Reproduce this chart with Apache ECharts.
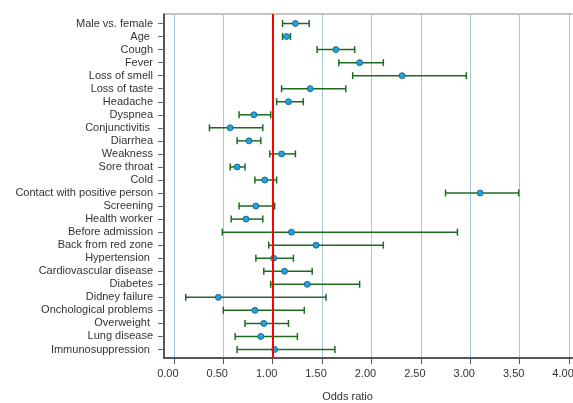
<!DOCTYPE html>
<html><head><meta charset="utf-8">
<script src="https://cdn.jsdelivr.net/npm/echarts@6/dist/echarts.min.js"></script>
<style>html,body{margin:0;padding:0;background:#fff}#c{width:573px;height:403px}</style>
</head><body><div id="c"></div>
<script>
const categories = ['Male vs. female','Age ','Cough','Fever','Loss of smell','Loss of taste','Headache','Dyspnea','Conjunctivitis ','Diarrhea','Weakness','Sore throat','Cold','Contact with positive person','Screening','Health worker','Before admission','Back from red zone','Hypertension ','Cardiovascular disease','Diabetes','Didney failure','Onchological problems','Overweight ','Lung disease','Immunosuppression '];
const oddsRatio = [1.23,1.14,1.64,1.88,2.31,1.38,1.16,0.81,0.57,0.76,1.09,0.64,0.92,3.10,0.83,0.73,1.19,1.44,1.01,1.12,1.35,0.45,0.82,0.91,0.88,1.02];
const lowerCI = [1.10,1.10,1.45,1.67,1.81,1.09,1.04,0.66,0.36,0.64,0.97,0.57,0.82,2.75,0.66,0.58,0.49,0.96,0.83,0.91,0.98,0.12,0.50,0.72,0.62,0.64];
const upperCI = [1.37,1.18,1.83,2.12,2.96,1.74,1.31,0.98,0.90,0.88,1.23,0.72,1.04,3.49,1.02,0.90,2.87,2.12,1.21,1.40,1.88,1.54,1.32,1.16,1.25,1.63];
const xTicks = [0,0.5,1,1.5,2,2.5,3,3.5,4];
const referenceValue = 1;
const xMin = -0.1, xMax = 4.05;

const chart = echarts.init(document.getElementById('c'));
const font = 'Liberation Sans, Arial, sans-serif';
chart.setOption({
  animation: false,
  backgroundColor: '#fff',
  grid: [
    {left: 164, right: -1, top: 14, bottom: 45, show: true, borderColor: '#8a8a8a', borderWidth: 1, outerBoundsMode: 'none', containLabel: false},
    {left: 164, right: -1, top: 17, bottom: 47, outerBoundsMode: 'none', containLabel: false}
  ],
  xAxis: [
    {type: 'value', gridIndex: 0, min: xMin, max: xMax,
     name: 'Odds ratio', nameLocation: 'middle', nameGap: 33,
     nameTextStyle: {fontFamily: font, fontSize: 11, color: '#333', padding: [0, 43, 0, 0]},
     axisLine: {show: true, onZero: false, lineStyle: {color: '#333', width: 1.5}},
     axisTick: {show: true, length: 6, customValues: xTicks, lineStyle: {color: '#555'}},
     axisLabel: {customValues: xTicks, margin: 10, padding: [0, 12, 0, 0], fontFamily: font, fontSize: 11, color: '#333', formatter: v => v.toFixed(2)},
     splitLine: {show: true, lineStyle: {color: '#a9c6db', width: 1}}},
    {type: 'value', gridIndex: 1, min: xMin, max: xMax, show: false}
  ],
  yAxis: [
    {type: 'value', gridIndex: 0, min: 0, max: 1,
     axisLine: {show: true, onZero: false, lineStyle: {color: '#333', width: 1.5}},
     axisTick: {show: false}, axisLabel: {show: false}, splitLine: {show: false}},
    {type: 'category', gridIndex: 1, data: categories, inverse: true,
     axisLine: {show: false, onZero: false},
     axisTick: {show: true, alignWithLabel: true, length: 6, lineStyle: {color: '#666'}},
     axisLabel: {margin: 11, fontFamily: font, fontSize: 11, color: '#333', interval: 0},
     splitLine: {show: false}}
  ],
  series: [
    {type: 'scatter', xAxisIndex: 0, yAxisIndex: 0, data: [], symbolSize: 0, z: 3,
     markLine: {silent: true, symbol: 'none', label: {show: false},
       lineStyle: {color: '#ff0000', width: 2, type: 'solid'},
       data: [{xAxis: referenceValue}]}},
    {type: 'custom', xAxisIndex: 1, yAxisIndex: 1, z: 2,
     data: categories.map((c, i) => [i, lowerCI[i], upperCI[i]]),
     encode: {x: [1, 2], y: 0},
     renderItem: function (params, api) {
       const y = api.value(0);
       const lo = api.coord([api.value(1), y]);
       const hi = api.coord([api.value(2), y]);
       const h = 3.5;
       const style = {stroke: '#1d6b1d', lineWidth: 1.5};
       return {type: 'group', children: [
         {type: 'line', shape: {x1: lo[0], y1: lo[1], x2: hi[0], y2: hi[1]}, style: style},
         {type: 'line', shape: {x1: lo[0], y1: lo[1] - h, x2: lo[0], y2: lo[1] + h}, style: style},
         {type: 'line', shape: {x1: hi[0], y1: hi[1] - h, x2: hi[0], y2: hi[1] + h}, style: style}
       ]};
     }},
    {type: 'scatter', xAxisIndex: 1, yAxisIndex: 1, z: 4,
     data: oddsRatio.map((v, i) => [v, i]),
     symbol: 'circle', symbolSize: 6,
     itemStyle: {color: '#22a3dc', borderColor: '#0d5878', borderWidth: 0.8, opacity: 1}}
  ]
});
</script>
</body></html>
